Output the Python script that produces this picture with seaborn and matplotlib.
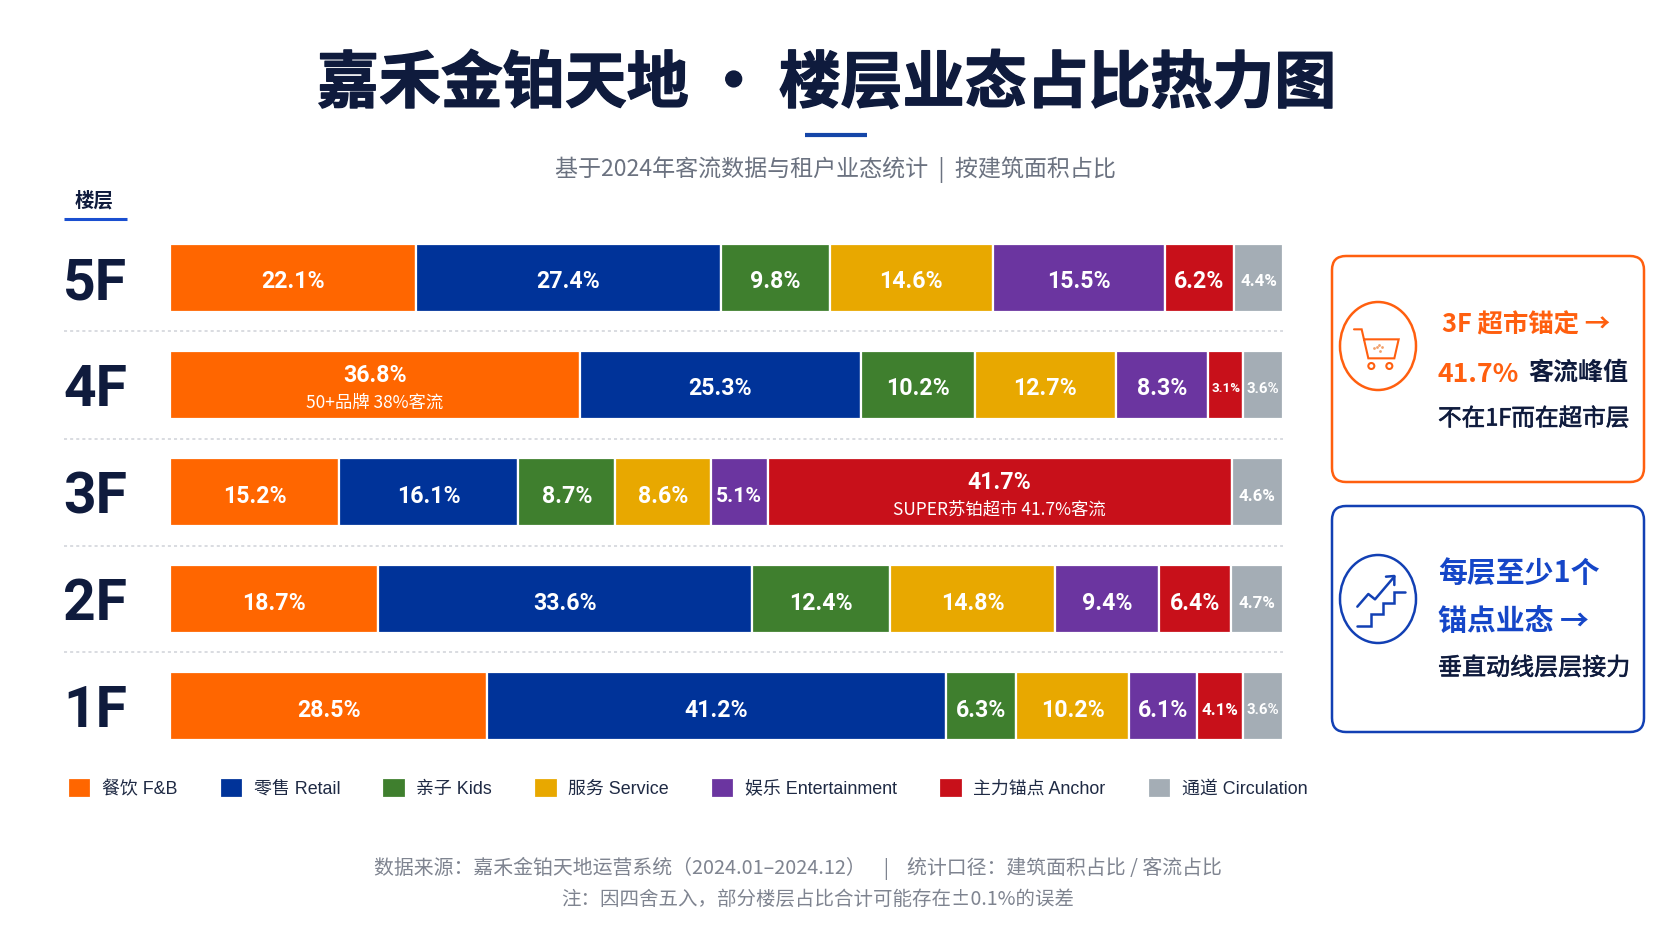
import matplotlib
matplotlib.use("Agg")
import matplotlib.pyplot as plt
import matplotlib.patheffects as pe
from matplotlib.patches import FancyBboxPatch, Ellipse, Circle
import seaborn as sns
import pandas as pd

# Floor-by-floor format shares, in percent
floors = ["5F", "4F", "3F", "2F", "1F"]
segments = ["餐饮 F&B", "零售 Retail", "亲子 Kids", "服务 Service",
            "娱乐 Entertainment", "主力锚点 Anchor", "通道 Circulation"]
fnb = [22.1, 36.8, 15.2, 18.7, 28.5]
retail = [27.4, 25.3, 16.1, 33.6, 41.2]
kids = [9.8, 10.2, 8.7, 12.4, 6.3]
service = [14.6, 12.7, 8.6, 14.8, 10.2]
entertainment = [15.5, 8.3, 5.1, 9.4, 6.1]
anchor = [6.2, 3.1, 41.7, 6.4, 4.1]
circulation = [4.4, 3.6, 4.6, 4.7, 3.6]
series = [fnb, retail, kids, service, entertainment, anchor, circulation]
colors = ["#FF6600", "#003399", "#3F7F2E", "#E8A800", "#6B35A0", "#C8101A", "#A4ADB5"]
notes = {("4F", 0): "50+品牌 38%客流", ("3F", 5): "SUPER苏铂超市 41.7%客流"}

sns.set_theme(style="white")
plt.rcParams["font.family"] = ["Noto Sans CJK SC", "DejaVu Sans"]

W, H = 1672, 941
INK = "#0F1B3D"
ORANGE = "#FF5F0F"
BLUE = "#1546C8"
NAVY = "#1240B4"
px = 72 / 100  # points per pixel at this dpi


def label_size(v):
    """Percent labels shrink so they stay inside narrow segments."""
    if v < 3.5:
        return 9.6
    if v < 4:
        return 10.8
    if v < 5:
        return 12.2
    if v < 6:
        return 15.2
    return 16.7


fig = plt.figure(figsize=(W / 100, H / 100), dpi=100, facecolor="white")

# Full-canvas layer in pixel units for the title block, cards and footer
bg = fig.add_axes([0, 0, 1, 1])
bg.set_xlim(0, W)
bg.set_ylim(H, 0)
bg.axis("off")

# Stacked bars
ax = fig.add_axes([170 / W, 1 - 759.5 / H, (1283 - 170) / W, (759.5 - 224) / H])
ax.patch.set_alpha(0)
left = [0.0] * len(floors)
for col, (values, color) in enumerate(zip(series, colors)):
    frame = pd.DataFrame({"floor": floors, "share": values})
    sns.barplot(data=frame, y="floor", x="share", order=floors, color=color,
                saturation=1, width=0.635, left=left, errorbar=None,
                edgecolor="white", linewidth=1.6, ax=ax)
    for row, floor in enumerate(floors):
        v = values[row]
        mid = left[row] + v / 2
        note = notes.get((floor, col))
        ax.text(mid, row + (-0.085 if note else 0.04), f"{v:.1f}%", color="white",
                ha="center", va="center", fontsize=label_size(v), fontweight="bold",
                family="Roboto")
        if note:
            ax.text(mid, row + 0.165, note, color="white", ha="center", va="center",
                    fontsize=12.5)
    left = [a + b for a, b in zip(left, values)]

ax.set_xlim(0, 100)
ax.set_ylim(4.5, -0.5)
ax.set_xlabel("")
ax.set_ylabel("")
ax.set_xticks([])
ax.set_yticks(range(len(floors)))
ax.set_yticklabels(floors, fontsize=57 * px, fontweight="bold", color=INK,
                   family=["Roboto", "DejaVu Sans"], va="center_baseline")
ax.tick_params(axis="y", length=0, pad=43 * px)
sns.despine(ax=ax, left=True, bottom=True)

# Dotted dividers between floors
bg.hlines([331, 439, 546, 652], 64, 1283, color="#CFD2D8", lw=1.1, linestyles=(0, (2, 2)))

# Title block
bg.text(826, 84, "嘉禾金铂天地 · 楼层业态占比热力图", ha="center", va="center",
        fontsize=44.6, fontweight="bold", color=INK,
        path_effects=[pe.withStroke(linewidth=1.0, foreground=INK)])
bg.plot([805, 867], [135, 135], color="#1546A8", lw=3, solid_capstyle="butt")
bg.text(835, 170, "基于2024年客流数据与租户业态统计  |  按建筑面积占比", ha="center", va="center",
        fontsize=16.6, color="#6B7280")
bg.text(94, 201, "楼层", ha="center", va="center", fontsize=14, fontweight="bold", color=INK)
bg.plot([64, 127], [219, 219], color="#1A4FD0", lw=2.2, solid_capstyle="butt")

# Legend
bg.legend(handles=list(ax.containers), labels=segments, ncol=7, frameon=False,
          loc="center left", bbox_to_anchor=(68, 788), bbox_transform=bg.transData,
          borderpad=0, borderaxespad=0, labelcolor="#1F2A44",
          prop={"family": ["Liberation Sans", "Noto Sans CJK SC"], "size": 12.9},
          handlelength=1.3, handleheight=1.35, handletextpad=0.6, columnspacing=2.35)


# Side cards
def card(y0, y1, icon_y, color):
    bg.add_patch(FancyBboxPatch((1332 + 14, y0 + 14), 312 - 28, y1 - y0 - 28,
                                boxstyle="round,pad=14,rounding_size=14",
                                fc="white", ec=color, lw=1.8))
    bg.add_patch(Ellipse((1378, icon_y), 76, 88, fc="none", ec=color, lw=1.8))


card(256, 482, 346, ORANGE)
card(506, 732, 599, NAVY)


def zoomed(points):
    return [1300 + p[0] / 3 for p in points], [240 + p[1] / 3 for p in points]


# Shopping-cart icon
xs, ys = zoomed([(162, 268), (185, 268), (205, 355), (283, 355), (296, 298), (192, 298)])
bg.plot(xs, ys, color=ORANGE, lw=1.5, solid_joinstyle="miter")
for wheel in (214, 268):
    bg.add_patch(Circle((1300 + wheel / 3, 240 + 378 / 3), 3, fc="none", ec=ORANGE, lw=1.5))
xs, ys = zoomed([(222, 325), (238, 316), (245, 322), (240, 334), (230, 322)])
bg.scatter(xs, ys, s=4, color="#F2A06B", linewidths=0)

# Stairs and rising-arrow icon
xs, ys = zoomed([(172, 1157), (212, 1157), (212, 1122), (250, 1122), (250, 1090),
                 (282, 1090), (282, 1055), (315, 1055)])
bg.plot(xs, ys, color=NAVY, lw=1.8, solid_joinstyle="miter")
xs, ys = zoomed([(172, 1100), (205, 1062), (225, 1078), (283, 1010)])
bg.plot(xs, ys, color=NAVY, lw=1.8)
xs, ys = zoomed([(258, 1010), (283, 1008), (283, 1035)])
bg.plot(xs, ys, color=NAVY, lw=1.8)

# Card copy
semi = [pe.withStroke(linewidth=0.45, foreground=INK)]
bg.text(1442, 325, "3F 超市锚定 →", ha="left", va="center", fontsize=18.3, fontweight="bold", color=ORANGE)
bg.text(1438, 374, "41.7%", ha="left", va="center", fontsize=19.2, fontweight="bold", color=ORANGE)
bg.text(1528, 373, "客流峰值", ha="left", va="center", fontsize=18, fontweight="bold", color=INK)
bg.text(1438, 419, "不在1F而在超市层", ha="left", va="center", fontsize=17, color=INK, path_effects=semi)
bg.text(1438, 573, "每层至少1个", ha="left", va="center", fontsize=20.8, fontweight="bold", color=BLUE)
bg.text(1438, 621, "锚点业态 →", ha="left", va="center", fontsize=20.8, fontweight="bold", color=BLUE)
bg.text(1438, 668, "垂直动线层层接力", ha="left", va="center", fontsize=17.3, color=INK, path_effects=semi)

# Footer
bg.text(798, 868, "数据来源：嘉禾金铂天地运营系统（2024.01–2024.12）    |    统计口径：建筑面积占比 / 客流占比",
        ha="center", va="center", fontsize=14.3, color="#7F8490")
bg.text(818, 899, "注：因四舍五入，部分楼层占比合计可能存在±0.1%的误差", ha="center", va="center",
        fontsize=14, color="#7F8490")

fig.savefig("out.png", dpi=100)
